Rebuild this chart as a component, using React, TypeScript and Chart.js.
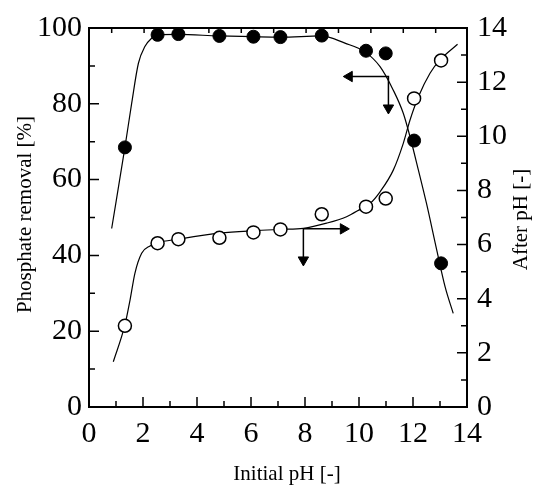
import React, { useEffect, useRef } from "react";
import { Chart, registerables } from "chart.js";
Chart.register(...registerables);

// Measured points
const initialPH = [1.33, 2.54, 3.31, 4.83, 6.09, 7.09, 8.62, 10.26, 10.99, 12.04, 13.04];
const removal = [68.5, 98.2, 98.4, 97.9, 97.7, 97.6, 98.0, 94.0, 93.3, 70.3, 37.9];
const afterPH = [3.0, 6.05, 6.2, 6.25, 6.45, 6.56, 7.12, 7.4, 7.7, 11.4, 12.8];

// Fitted curves
const removalFitX = [0.84, 1.33, 1.58, 1.83, 2.07, 2.32, 2.54, 3.3, 4.8, 6.1, 7.1, 8.6, 9.48, 10.22, 10.78, 11.27, 11.64, 11.89, 12.2, 12.5, 12.88, 13.19, 13.49];
const removalFitY = [47.1, 68.5, 80.1, 90.7, 95.1, 97.3, 98.2, 98.3, 97.9, 97.7, 97.6, 97.9, 96.0, 93.7, 89.8, 83.6, 77.5, 71.3, 62.5, 53.7, 41.4, 31.7, 24.7];
const afterFitX = [0.9, 1.33, 1.52, 1.7, 1.95, 2.26, 2.54, 3.3, 4.85, 6.09, 7.09, 7.94, 8.8, 9.54, 10.04, 10.41, 10.78, 11.27, 11.64, 11.89, 12.2, 12.63, 13.0, 13.65];
const afterFitY = [1.67, 3.03, 3.95, 4.94, 5.68, 5.95, 6.07, 6.2, 6.42, 6.51, 6.56, 6.6, 6.79, 7.03, 7.3, 7.52, 7.95, 8.75, 9.74, 10.6, 11.46, 12.33, 12.82, 13.4];

// Arrows (left-axis units)
const arrow1X = [9.64, 11.09, 11.09];
const arrow1Y = [87.2, 87.2, 78.9];
const arrow2X = [9.42, 7.94, 7.94];
const arrow2Y = [47.0, 47.0, 38.8];
const headX = [9.64, 11.09, 9.42, 7.94];
const headY = [87.2, 78.9, 47.0, 38.8];
const headRot = [270, 180, 90, 180];

// Tick marks
const xMinorTicks = [1, 3, 5, 7, 9, 11, 13];
const leftMinorTicks = [10, 30, 50, 70, 90];
const rightMinorTicks = [1, 3, 5, 7, 9, 11, 13];
const topTicks = [0.84, 2.04, 3.24, 4.44, 5.64, 6.84, 8.04, 9.24, 10.44, 11.64, 12.84];

// Axis titles
const xTitle = "Initial pH [-]";
const yLeftTitle = "Phosphate removal [%]";
const yRightTitle = "After pH [-]";

const FONT = "'Liberation Serif', 'Times New Roman', serif";

const pts = (xs: number[], ys: number[]) => xs.map((x, i) => ({ x, y: ys[i] }));

export default function App() {
  const ref = useRef<HTMLCanvasElement>(null);
  useEffect(() => {
    const canvas = ref.current!;
    const frame = {
      id: "frameTicks",
      afterDraw(chart: any) {
        const { ctx, chartArea } = chart;
        const { left, right, top, bottom } = chartArea;
        const xs = chart.scales.x;
        const yl = chart.scales.y;
        const yr = chart.scales.y2;
        ctx.save();
        ctx.strokeStyle = "#000";
        ctx.lineWidth = 1.5;
        ctx.beginPath();
        xs.ticks.forEach((t: any) => {
          const p = xs.getPixelForValue(t.value);
          ctx.moveTo(p, bottom);
          ctx.lineTo(p, bottom - 10);
        });
        xMinorTicks.forEach((v) => {
          const p = xs.getPixelForValue(v);
          ctx.moveTo(p, bottom);
          ctx.lineTo(p, bottom - 6);
        });
        topTicks.forEach((v) => {
          const p = xs.getPixelForValue(v);
          ctx.moveTo(p, top);
          ctx.lineTo(p, top + 5);
        });
        yl.ticks.forEach((t: any) => {
          const p = yl.getPixelForValue(t.value);
          ctx.moveTo(left, p);
          ctx.lineTo(left + 10, p);
        });
        leftMinorTicks.forEach((v) => {
          const p = yl.getPixelForValue(v);
          ctx.moveTo(left, p);
          ctx.lineTo(left + 6, p);
        });
        yr.ticks.forEach((t: any) => {
          const p = yr.getPixelForValue(t.value);
          ctx.moveTo(right, p);
          ctx.lineTo(right - 10, p);
        });
        rightMinorTicks.forEach((v) => {
          const p = yr.getPixelForValue(v);
          ctx.moveTo(right, p);
          ctx.lineTo(right - 6, p);
        });
        ctx.stroke();
        ctx.lineWidth = 2;
        ctx.strokeRect(left, top, right - left, bottom - top);

        // axis titles
        ctx.fillStyle = "#000";
        ctx.font = `21px ${FONT}`;
        ctx.textAlign = "center";
        ctx.textBaseline = "middle";
        ctx.fillText(xTitle, (left + right) / 2 + 9, 474);
        const midY = (top + bottom) / 2;
        ctx.save();
        ctx.translate(25, midY - 3);
        ctx.rotate(-Math.PI / 2);
        ctx.fillText(yLeftTitle, 0, 0);
        ctx.restore();
        ctx.save();
        ctx.translate(521, midY + 2);
        ctx.rotate(-Math.PI / 2);
        ctx.fillText(yRightTitle, 0, 0);
        ctx.restore();
        ctx.restore();
      },
    };

    const tickFont = { family: FONT, size: 30 };

    const chart = new Chart(canvas, {
      type: "scatter",
      data: {
        datasets: [
          {
            data: pts(initialPH, removal),
            yAxisID: "y",
            pointRadius: 6.5,
            pointBackgroundColor: "#000",
            pointBorderColor: "#000",
            pointBorderWidth: 1,
            showLine: false,
            clip: false,
          },
          {
            data: pts(initialPH, afterPH),
            yAxisID: "y2",
            pointRadius: 6.5,
            pointBackgroundColor: "#fff",
            pointBorderColor: "#000",
            pointBorderWidth: 1.5,
            showLine: false,
            clip: false,
          },
          {
            data: pts(headX, headY),
            yAxisID: "y",
            pointStyle: "triangle",
            pointRadius: 6,
            pointRotation: headRot,
            pointBackgroundColor: "#000",
            pointBorderColor: "#000",
            pointBorderWidth: 1,
            showLine: false,
          },
          {
            data: pts(arrow1X, arrow1Y),
            yAxisID: "y",
            showLine: true,
            borderColor: "#000",
            borderWidth: 1.5,
            pointRadius: 0,
            tension: 0,
          },
          {
            data: pts(arrow2X, arrow2Y),
            yAxisID: "y",
            showLine: true,
            borderColor: "#000",
            borderWidth: 1.5,
            pointRadius: 0,
            tension: 0,
          },
          {
            data: pts(removalFitX, removalFitY),
            yAxisID: "y",
            showLine: true,
            borderColor: "#000",
            borderWidth: 1.2,
            pointRadius: 0,
            cubicInterpolationMode: "monotone",
          },
          {
            data: pts(afterFitX, afterFitY),
            yAxisID: "y2",
            showLine: true,
            borderColor: "#000",
            borderWidth: 1.2,
            pointRadius: 0,
            cubicInterpolationMode: "monotone",
          },
        ],
      } as any,
      options: {
        animation: false,
        responsive: false,
        devicePixelRatio: 1,
        layout: { padding: { top: 28, left: 0, right: 0, bottom: 0 } },
        plugins: { legend: { display: false }, tooltip: { enabled: false } },
        scales: {
          x: {
            type: "linear",
            position: "bottom",
            min: 0,
            max: 14,
            ticks: { stepSize: 2, color: "#000", font: tickFont, padding: 9, maxRotation: 0, autoSkip: false },
            grid: { display: false, drawTicks: false },
            border: { display: false },
            title: { display: false },
            afterFit: (s: any) => {
              s.height = 81;
              s.paddingLeft = 0;
              s.paddingRight = 0;
            },
          },
          y: {
            type: "linear",
            position: "left",
            min: 0,
            max: 100,
            ticks: { stepSize: 20, color: "#000", font: tickFont, padding: 7 },
            grid: { display: false, drawTicks: false },
            border: { display: false },
            title: { display: false },
            afterFit: (s: any) => {
              s.width = 89;
              s.paddingTop = 0;
              s.paddingBottom = 0;
            },
          },
          y2: {
            type: "linear",
            position: "right",
            min: 0,
            max: 14,
            ticks: { stepSize: 2, color: "#000", font: tickFont, padding: 10 },
            grid: { display: false, drawTicks: false },
            border: { display: false },
            title: { display: false },
            afterFit: (s: any) => {
              s.width = 67;
              s.paddingTop = 0;
              s.paddingBottom = 0;
            },
          },
        },
      } as any,
      plugins: [frame],
    });
    return () => chart.destroy();
  }, []);

  return (
    <div style={{ position: "absolute", left: 0, top: 0, width: 534, height: 488, background: "#fff" }}>
      <canvas ref={ref} width={534} height={488} style={{ width: 534, height: 488, display: "block" }} />
    </div>
  );
}
